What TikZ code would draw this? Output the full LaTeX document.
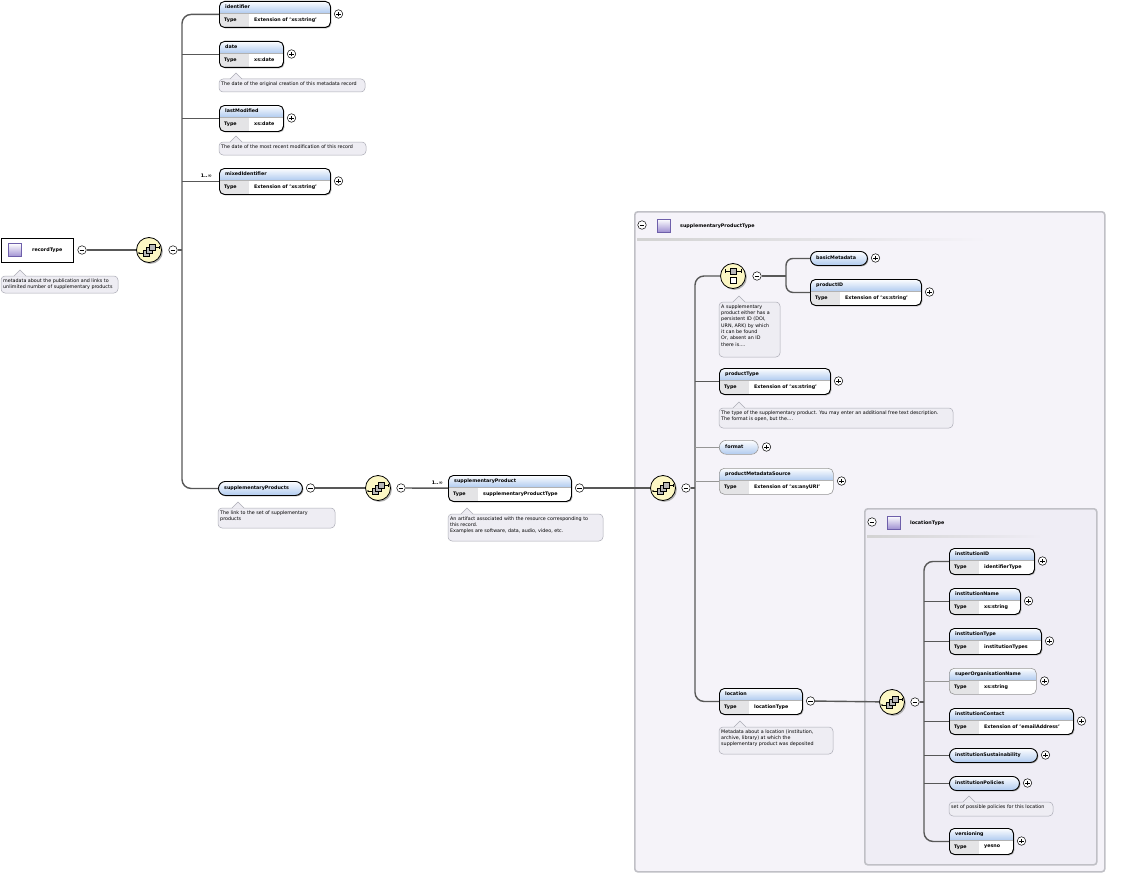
\documentclass[tikz,border=0pt]{standalone}
\usepackage{fontspec}
\setmainfont{DejaVu Sans}
\usetikzlibrary{calc}

\definecolor{hdrblue}{RGB}{178,204,240}
\definecolor{typegray}{RGB}{228,228,230}
\definecolor{annfill}{RGB}{238,237,243}
\definecolor{annline}{RGB}{172,172,182}
\definecolor{ctfill}{RGB}{245,243,249}
\definecolor{ctfillb}{RGB}{239,237,245}
\definecolor{ctline}{RGB}{192,192,198}
\definecolor{seqfill}{RGB}{252,247,196}
\definecolor{linkgray}{RGB}{88,88,88}
\definecolor{optgray}{RGB}{150,150,150}
\definecolor{icopurple}{RGB}{160,145,210}
\definecolor{icoline}{RGB}{110,95,170}

\tikzset{
  lbl/.style={font=\fontsize{4.8}{6}\selectfont\bfseries, inner sep=0pt},
  anntext/.style={font=\fontsize{4.8}{6.3}\selectfont, inner sep=0pt, align=left},
  mand/.style={draw=black, line width=0.9pt},
  opt/.style={draw=optgray, line width=0.6pt},
  mand-sh/.style={fill=gray!65},
  opt-sh/.style={},
  conn/.style={draw=linkgray, line width=1.4pt},
  optconn/.style={draw=optgray, line width=0.6pt},
  ctbox/.style={draw=ctline, line width=1.6pt, fill=ctfill, rounded corners=3pt, inner sep=0pt},
  ctboxb/.style={draw=ctline, line width=1.6pt, fill=ctfillb, rounded corners=3pt, inner sep=0pt},
  typeicon/.style={draw=icoline, line width=0.6pt, top color=white, bottom color=icopurple,
    minimum size=13pt, inner sep=0pt},
  pmbase/.style={circle, draw=black, fill=white, line width=0.5pt, minimum size=8.5pt, inner sep=0pt},
  plusc/.style={pmbase, path picture={
    \draw[line width=0.6pt]
      ([xshift=-2.4pt]path picture bounding box.center) -- ([xshift=2.4pt]path picture bounding box.center)
      ([yshift=-2.4pt]path picture bounding box.center) -- ([yshift=2.4pt]path picture bounding box.center);}},
  minusc/.style={pmbase, path picture={
    \draw[line width=0.6pt]
      ([xshift=-2.4pt]path picture bounding box.center) -- ([xshift=2.4pt]path picture bounding box.center);}},
  compicon/.style={circle, draw=black, line width=0.8pt, fill=seqfill, minimum size=25pt, inner sep=0pt},
}

% element with a type row: border style, name, x, y, width, title, type, expander style
\newcommand\elbox[8]{%
  \path[#1-sh, rounded corners=5pt] (#3+1.4,#4+1.4) rectangle ++(#5,26);
  \begin{scope}
    \clip[rounded corners=5pt] (#3,#4) rectangle ++(#5,26);
    \fill[white] (#3,#4) rectangle ++(#5,26);
    \shade[top color=white, bottom color=hdrblue] (#3,#4) rectangle ++(#5,12);
    \fill[typegray] (#3,#4+12) rectangle ++(30,14);
  \end{scope}
  \draw[gray!60, line width=0.4pt] (#3,#4+12) -- ++(#5,0);
  \node[#1, rounded corners=5pt, minimum width=#5pt, minimum height=26pt, inner sep=0pt,
        anchor=north west] (#2) at (#3,#4) {};
  \node[lbl, anchor=west] (#2-t) at (#3+6,#4+6) {#6};
  \node[lbl, anchor=west] (#2-k) at (#3+5,#4+19) {Type};
  \node[lbl, anchor=west] (#2-v) at (#3+35,#4+19) {#7};
  \node[#8] (#2-pm) at (#3+#5+8.5,#4+13) {};
}

% element without a type row: border style, name, x, y, width, title, expander style
\newcommand\elpill[7]{%
  \path[#1-sh, rounded corners=7pt] (#3+1.4,#4+1.4) rectangle ++(#5,14);
  \shade[top color=white, bottom color=hdrblue, rounded corners=7pt] (#3,#4) rectangle ++(#5,14);
  \node[#1, rounded corners=7pt, minimum width=#5pt, minimum height=14pt, inner sep=0pt,
        anchor=north west] (#2) at (#3,#4) {};
  \node[lbl, anchor=west] (#2-t) at (#3+6,#4+7) {#6};
  \node[#7] (#2-pm) at (#3+#5+8.5,#4+7) {};
}

% documentation balloon: name, x, y, width, height, pointer x, text
\newcommand\annot[7]{%
  \filldraw[fill=annfill, draw=annline, line width=0.5pt, rounded corners=4pt] (#2,#3) rectangle ++(#4,#5);
  \fill[annfill] (#6-6,#3+0.6) -- (#6,#3-6) -- (#6+6,#3+0.6) -- cycle;
  \draw[annline, line width=0.5pt] (#6-6,#3) -- (#6,#3-6) -- (#6+6,#3);
  \node[anntext, anchor=north west] (#1) at (#2+2,#3+2.5) {#7};
}

% sequence compositor: name, x, y
\newcommand\seqicon[3]{%
  \fill[gray!60] (#2+1.4,#3+1.4) circle (12.5pt);
  \node[compicon] (#1) at (#2,#3) {};
  \draw[line width=0.5pt] (#2-10,#3+3) -- (#2-6,#3+3) (#2+6,#3-3) -- (#2+10,#3-3)
        (#2+10,#3-4.5) -- (#2+10,#3-1.5);
  \fill (#2-10,#3+3) circle (0.9pt);
  \foreach \d in {0,3,6}
    \filldraw[fill=gray!55, draw=black, line width=0.4pt] (#2-6+\d,#3-\d) rectangle ++(6,6);
}

% choice compositor: name, x, y
\newcommand\choiceicon[3]{%
  \fill[gray!60] (#2+1.4,#3+1.4) circle (12.5pt);
  \node[compicon] (#1) at (#2,#3) {};
  \draw[line width=0.5pt] (#2-8,#3-5) -- (#2+8,#3-5)
        (#2-8,#3-7) -- (#2-8,#3-3) (#2+8,#3-7) -- (#2+8,#3-3);
  \filldraw[fill=gray!55, draw=black, line width=0.4pt] (#2-3,#3-8) rectangle ++(6,6);
  \filldraw[fill=white, draw=black, line width=0.4pt] (#2-3,#3+1) rectangle ++(6,6);
}

% complex type header: name, x, y, title
\newcommand\cthead[4]{%
  \node[minusc] (#1-pm) at (#2+8,#3+14) {};
  \node[typeicon] (#1-ic) at (#2+29.5,#3+14.5) {};
  \node[lbl, anchor=west] (#1-t) at (#2+46,#3+15) {#4};
}

\begin{document}
\begin{tikzpicture}[x=1pt, y=-1pt]
\fill[white] (0,0) rectangle (1133,875);
\useasboundingbox (0,0) rectangle (1133,875);

% ---------- root ----------
\fill[gray!65] (1.9,239.4) rectangle (73.9,263.4);
\node[draw=black, line width=0.9pt, fill=white, minimum width=72pt, minimum height=24pt,
      inner sep=0pt, anchor=north west] (root) at (0.5,238) {};
\node[typeicon] (root-ic) at (15,250) {};
\node[lbl, anchor=west] (root-t) at (32,250) {recordType};
\node[minusc] (root-m) at (82,250) {};
\annot{rootann}{1}{276}{117}{17}{20}{metadata about the publication and links to\\unlimited number of supplementary products}
\seqicon{seq1}{149}{250}
\node[minusc] (seq1-m) at (173,250) {};
\coordinate (barL) at (182,250);

% ---------- recordType children ----------
\elbox{mand}{identifier}{219}{1}{111}{identifier}{Extension of 'xs:string'}{plusc}
\elbox{mand}{date}{219}{41}{64}{date}{xs:date}{plusc}
\annot{dateann}{219}{79}{146}{13}{236}{The date of the original creation of this metadata record}
\elbox{mand}{lastModified}{219}{105}{64}{lastModified}{xs:date}{plusc}
\annot{lmann}{219}{142}{147}{13}{236}{The date of the most recent modification of this record}
\elbox{mand}{mixedIdentifier}{219}{168}{111}{mixedIdentifier}{Extension of 'xs:string'}{plusc}
\node[lbl, anchor=east] (mixmult) at (212,176) {1..∞};

\elpill{mand}{supplementaryProducts}{218}{481}{84}{supplementaryProducts}{minusc}
\annot{spsann}{218}{508}{117}{20}{238}{The link to the set of supplementary\\products}
\seqicon{seq2}{378}{488}
\node[minusc] (seq2-m) at (401,488) {};
\node[lbl, anchor=east] (spmult) at (443,483) {1..∞};
\elbox{mand}{supplementaryProduct}{448}{475}{123}{supplementaryProduct}{supplementaryProductType}{minusc}
\annot{spann}{448}{514}{155}{27}{467}{An artifact associated with the resource corresponding to\\this record.\\Examples are software, data, audio, video, etc.}

% ---------- supplementaryProductType ----------
\node[ctbox, minimum width=470pt, minimum height=660pt, anchor=north west] (sptype) at (634,211) {};
\cthead{spth}{634}{211}{supplementaryProductType}
\shade[left color=gray!35, right color=ctfill] (637,238.5) rectangle (988,240);

\seqicon{seq3}{663}{488}
\node[minusc] (seq3-m) at (686,488) {};
\coordinate (barS) at (695,488);

\choiceicon{choice}{733}{276}
\node[minusc] (choice-m) at (757,276) {};
\coordinate (barC) at (786,276);
\elpill{mand}{basicMetadata}{810}{251}{57}{basicMetadata}{plusc}
\elbox{mand}{productID}{810}{279}{111}{productID}{Extension of 'xs:string'}{plusc}
\annot{chann}{719}{302}{61}{55}{739}{A supplementary\\product either has a\\persistent ID (DOI,\\URN, ARK) by which\\it can be found\\Or, absent an ID\\there is....}

\elbox{mand}{productType}{719}{368}{111}{productType}{Extension of 'xs:string'}{plusc}
\annot{ptann}{719}{408}{234}{20}{739}{The type of the supplementary product. You may enter an additional free text description.\\The format is open, but the....}
\elpill{opt}{format}{719}{440}{39}{format}{plusc}
\elbox{opt}{productMetadataSource}{719}{468}{114}{productMetadataSource}{Extension of 'xs:anyURI'}{plusc}

\elbox{mand}{location}{719}{688}{83}{location}{locationType}{minusc}
\annot{locann}{719}{727}{114}{27}{740}{Metadata about a location (institution,\\archive, library) at which the\\supplementary product was deposited}

% ---------- locationType ----------
\node[ctboxb, minimum width=232pt, minimum height=356pt, anchor=north west] (loctype) at (864,508) {};
\cthead{ltth}{864}{508}{locationType}
\shade[left color=gray!35, right color=ctfillb] (867,535.5) rectangle (1043,537);

\seqicon{seq4}{892}{702}
\node[minusc] (seq4-m) at (915,702) {};
\coordinate (barLoc) at (924,702);

\elbox{mand}{institutionID}{949}{548}{85}{institutionID}{identifierType}{plusc}
\elbox{mand}{institutionName}{949}{588}{71}{institutionName}{xs:string}{plusc}
\elbox{mand}{institutionType}{949}{628}{92}{institutionType}{institutionTypes}{plusc}
\elbox{opt}{superOrganisationName}{949}{668}{87}{superOrganisationName}{xs:string}{plusc}
\elbox{mand}{institutionContact}{949}{708}{124}{institutionContact}{Extension of 'emailAddress'}{plusc}
\elpill{mand}{institutionSustainability}{949}{748}{88}{institutionSustainability}{plusc}
\elpill{mand}{institutionPolicies}{949}{776}{70}{institutionPolicies}{plusc}
\annot{ipann}{949}{802}{104}{14}{969}{set of possible policies for this location}
\elbox{mand}{versioning}{949}{828}{64}{versioning}{yesno}{plusc}

% ---------- connectors ----------
\draw[conn] (root-m) -- (seq1);
\draw[conn] (seq1-m) -- (barL);
\draw[conn, rounded corners=9pt] (identifier.west) -| (barL) |- (supplementaryProducts.west);
\foreach \n in {date,lastModified,mixedIdentifier}
  \draw[conn] (\n.west) -- (\n.west -| barL);

\draw[conn] (supplementaryProducts-pm) -- (seq2);
\draw[conn] (seq2-m) -- (supplementaryProduct);
\draw[conn] (supplementaryProduct-pm) -- (seq3);

\draw[conn] (seq3-m) -- (barS);
\draw[conn, rounded corners=9pt] (choice.west) -| (barS) |- (location.west);
\draw[conn] (productType.west) -- (productType.west -| barS);
\draw[optconn] (format.west) -- (format.west -| barS);
\draw[optconn] (productMetadataSource.west) -- (productMetadataSource.west -| barS);

\draw[conn] (choice-m) -- (barC);
\draw[conn, rounded corners=7pt] (basicMetadata.west) -| (barC) |- (productID.west);

\draw[conn] (location-pm) -- (seq4);
\draw[conn] (seq4-m) -- (barLoc);
\draw[conn, rounded corners=9pt] (institutionID.west) -| (barLoc) |- (versioning.west);
\foreach \n in {institutionName,institutionType,institutionContact,institutionSustainability,institutionPolicies}
  \draw[conn] (\n.west) -- (\n.west -| barLoc);
\draw[optconn] (superOrganisationName.west) -- (superOrganisationName.west -| barLoc);
\end{tikzpicture}
\end{document}
